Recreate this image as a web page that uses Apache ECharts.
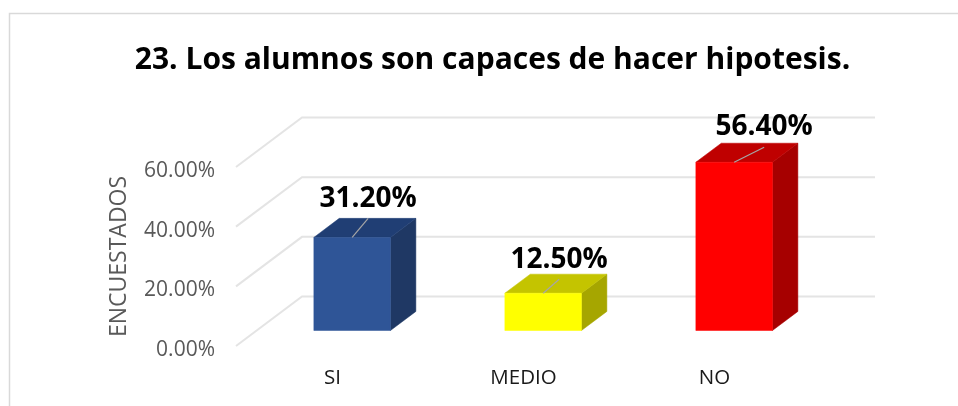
<!DOCTYPE html>
<html><head><meta charset="utf-8">
<style>html,body{margin:0;padding:0;background:#fff}#c{width:958px;height:406px}</style>
<script src="https://cdn.jsdelivr.net/npm/echarts@6/dist/echarts.min.js"></script>
</head><body><div id="c"></div>
<script>
const titleText = '23. Los alumnos son capaces de hacer hipotesis.';
const yAxisName = 'ENCUESTADOS';
const categories = ['SI', 'MEDIO', 'NO'];
const values = [31.2, 12.5, 56.4];
const ticks = [0, 20, 40, 60];

// perspective look (oblique projection), pixels
const FONT = '"Open Sans", sans-serif';
const WALL = [66, -49.5];
const NEAR = 0.313, BAR_DEPTH = 0.385;
const BAR_W = 76.6;
const FACES = [
  ['#2f5597', '#203e74', '#1f3864'],
  ['#ffff00', '#c4c400', '#a6a600'],
  ['#ff0000', '#bf0000', '#a60000']
];
const LEADER = [[16, -19], [16, -14], [30, -15]];
const LABEL_LIFT = [-19, -19, -20];
const GRID = {left: 236, right: 149, top: 167, bottom: 60};

const poly = (pts, fill) => ({type: 'polygon', shape: {points: pts}, style: {fill, stroke: fill, lineWidth: 0.5}});

function renderWall(params, api) {
  const p = api.coord([0, api.value(0)]);
  const s = params.coordSys;
  const x0 = s.x, x1 = s.x + s.width;
  return {
    type: 'polyline', silent: true,
    shape: {points: [[x0, p[1]], [x0 + WALL[0], p[1] + WALL[1]], [x1 + WALL[0], p[1] + WALL[1]]]},
    style: {stroke: '#e4e4e4', lineWidth: 2, fill: null}
  };
}

function renderBar(params, api) {
  const i = api.value(0);
  const top = api.coord([i, api.value(1)]);
  const base = api.coord([i, 0]);
  const dx = WALL[0] * NEAR, dy = WALL[1] * NEAR;
  const cx = top[0] + dx;
  const L = cx - BAR_W / 2, R = cx + BAR_W / 2;
  const yT = top[1] + dy, yB = base[1] + dy;
  const ox = WALL[0] * BAR_DEPTH, oy = WALL[1] * BAR_DEPTH;
  const f = FACES[i];
  const lead = LEADER[i];
  const tipX = cx + lead[0], tipY = yT + lead[1];
  return {
    type: 'group',
    children: [
      poly([[R, yT], [R + ox, yT + oy], [R + ox, yB + oy], [R, yB]], f[2]),
      poly([[L, yT], [R, yT], [R + ox, yT + oy], [L + ox, yT + oy]], f[1]),
      poly([[L, yT], [R, yT], [R, yB], [L, yB]], f[0]),
      {type: 'line', shape: {x1: cx, y1: yT, x2: tipX, y2: tipY},
       style: {stroke: '#a6a6a6', lineWidth: 1.2}},
      {type: 'text', x: tipX, y: tipY + LABEL_LIFT[i],
       style: {text: api.value(1).toFixed(2) + '%', fill: '#000', align: 'center', verticalAlign: 'middle',
               font: 'bold 28px ' + FONT}}
    ]
  };
}

const chart = echarts.init(document.getElementById('c'), null, {renderer: 'canvas'});
chart.setOption({
  animation: false,
  backgroundColor: '#fff',
  title: {
    text: titleText, left: 487.5, top: 40, textAlign: 'center',
    textStyle: {fontFamily: FONT, fontWeight: 'bold', fontSize: 30, color: '#000'}
  },
  graphic: [{
    type: 'polyline', silent: true, z: -1,
    shape: {points: [[9.5, 406], [9.5, 13.5], [958, 13.5]]},
    style: {stroke: '#d9d9d9', lineWidth: 1.5, fill: null}
  }],
  grid: GRID,
  xAxis: {
    type: 'category', data: categories,
    axisLine: {show: false}, axisTick: {show: false}, splitLine: {show: false},
    axisLabel: {color: '#1a1a1a', fontFamily: FONT, fontSize: 20.5, margin: 22, padding: [0, 0, 0, 2]}
  },
  yAxis: {
    type: 'value', min: 0, max: 60, interval: 20,
    name: yAxisName, nameLocation: 'middle', nameGap: 105, nameRotate: 90,
    nameTextStyle: {color: '#595959', fontFamily: FONT, fontSize: 23},
    axisLine: {show: false}, axisTick: {show: false}, splitLine: {show: false},
    axisLabel: {color: '#595959', fontFamily: FONT, fontSize: 21, margin: 21, verticalAlign: 'top', lineHeight: 8,
                formatter: v => v.toFixed(2) + '%'}
  },
  series: [
    {type: 'custom', coordinateSystem: 'cartesian2d', renderItem: renderWall, silent: true, clip: false,
     encode: {y: 0}, data: ticks.map(t => [t]), z: 1},
    {type: 'custom', coordinateSystem: 'cartesian2d', renderItem: renderBar, silent: true, clip: false,
     encode: {x: 0, y: 1}, data: values.map((v, i) => [i, v]), z: 2}
  ]
});
</script></body></html>
